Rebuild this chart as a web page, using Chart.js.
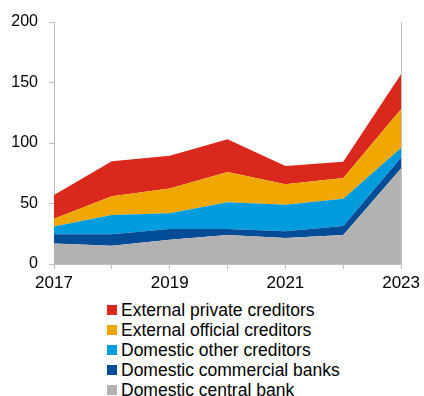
<!DOCTYPE html>
<html>
<head>
<meta charset="utf-8">
<script src="https://cdn.jsdelivr.net/npm/chart.js@4/dist/chart.umd.min.js"></script>
<style>
  html, body { margin: 0; padding: 0; background: #fff; }
  #wrap { position: relative; width: 424px; height: 396px; overflow: hidden; }
  #box { position: absolute; left: 0; top: 0; width: 424px; height: 292px; }
  #legend {
    position: absolute; left: 107px; top: 300px; margin: 0; padding: 0; list-style: none;
    font-family: "Liberation Sans", Arial, sans-serif; font-size: 17.5px; color: #000;
  }
  #legend li { height: 20px; line-height: 20px; display: flex; align-items: center; white-space: nowrap; }
  #legend .sw { width: 10px; height: 10px; margin-right: 4px; flex: none; }
</style>
</head>
<body>
<div id="wrap">
  <div id="box"><canvas id="chart"></canvas></div>
  <ul id="legend"></ul>
</div>
<script>
/* Debt holdings by creditor, stacked area */

const years = ["2017", "2018", "2019", "2020", "2021", "2022", "2023"];
const yTicks = [0, 50, 100, 150, 200];

// stacked from the bottom up
const centralBank    = [17, 15, 20, 24, 21.5, 24, 79];
const commercial     = [7.5, 9.5, 9, 5, 5.5, 7.5, 9];
const domesticOther  = [6.5, 16, 13, 22, 22, 22.5, 8];
const externalOff    = [6.5, 15.5, 20.5, 25, 17, 17, 32];
const externalPriv   = [19.5, 29, 27, 27, 15, 13.5, 29];

const series = [
  { label: "Domestic central bank", data: centralBank, color: "#b2b2b2" },
  { label: "Domestic commercial banks", data: commercial, color: "#004c97" },
  { label: "Domestic other creditors", data: domesticOther, color: "#009cde" },
  { label: "External official creditors", data: externalOff, color: "#f0a800" },
  { label: "External private creditors", data: externalPriv, color: "#da291c" },
];

const FONT = "'Liberation Sans', Arial, sans-serif";
const AXIS = "#bfbfbf";

const datasets = series.map((s, i) => ({
  label: s.label,
  data: s.data,
  backgroundColor: s.color,
  borderColor: s.color,
  borderWidth: 0,
  pointRadius: 0,
  tension: 0,
  fill: i === 0 ? "origin" : "-1",
}));

new Chart(document.getElementById("chart"), {
  type: "line",
  data: { labels: years, datasets },
  options: {
    responsive: true,
    maintainAspectRatio: false,
    animation: false,
    layout: { padding: { top: 22, right: 0, bottom: 0, left: 0 } },
    plugins: { legend: { display: false }, tooltip: { enabled: false } },
    scales: {
      x: {
        grid: { display: true, drawOnChartArea: false, color: AXIS, tickLength: 5 },
        border: { color: AXIS },
        ticks: {
          autoSkip: false,
          maxRotation: 0,
          padding: 4,
          color: "#000",
          font: { family: FONT, size: 17 },
          callback: (v, i) => (i % 2 === 0 ? years[i] : ""),
        },
        afterFit: (scale) => { scale.height = 28; },
      },
      y: {
        stacked: true,
        min: 0,
        max: 200,
        afterBuildTicks: (scale) => { scale.ticks = yTicks.map((value) => ({ value })); },
        grid: { display: true, drawOnChartArea: false, color: AXIS, tickLength: 5 },
        border: { color: AXIS },
        ticks: { padding: 11, color: "#000", font: { family: FONT, size: 16 } },
        afterFit: (scale) => { scale.width = 54; },
      },
      // plain frame line on the right edge
      yRight: {
        position: "right",
        min: 0,
        max: 200,
        grid: { display: false },
        border: { display: true, color: AXIS },
        ticks: { display: false },
        afterFit: (scale) => { scale.width = 20; },
      },
    },
  },
});

// legend, top entry is the top layer
const legend = document.getElementById("legend");
legend.innerHTML = [...series].reverse().map((s) => `
  <li><span class="sw" style="background:${s.color}"></span>${s.label}</li>
`).join("");
</script>
</body>
</html>
